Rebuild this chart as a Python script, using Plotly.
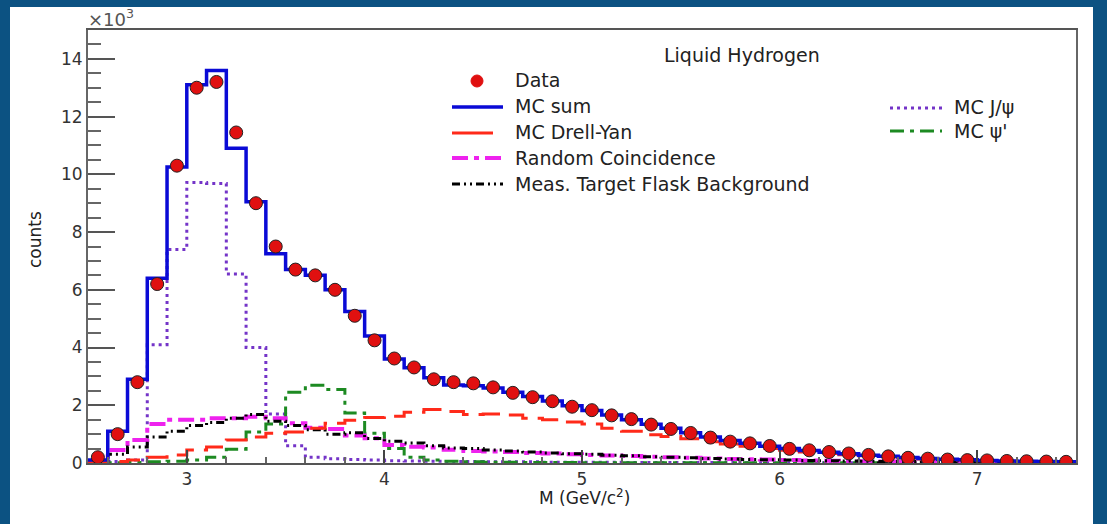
import plotly.graph_objects as go

# bin edges of the mass histogram (GeV/c^2), 0.1 wide
edges = [round(2.5 + 0.1 * i, 1) for i in range(51)]
centers = [round(e + 0.05, 2) for e in edges[:-1]]

# counts in units of 10^3
data = [0.2, 1.0, 2.8, 6.2, 10.3, 13.0, 13.2, 11.45, 9.0, 7.5,
        6.7, 6.5, 6.0, 5.1, 4.25, 3.62, 3.31, 2.9, 2.8, 2.76,
        2.62, 2.43, 2.28, 2.14, 1.95, 1.83, 1.65, 1.52, 1.33, 1.18,
        1.04, 0.88, 0.74, 0.68, 0.59, 0.49, 0.44, 0.38, 0.33, 0.28,
        0.23, 0.18, 0.15, 0.12, 0.1, 0.09, 0.07, 0.06, 0.05, 0.04]
mc_sum = [0.1, 1.1, 2.9, 6.4, 10.25, 13.1, 13.6, 10.9, 9.05, 7.25,
          6.7, 6.5, 6.0, 5.25, 4.4, 3.6, 3.3, 2.95, 2.7, 2.68,
          2.6, 2.45, 2.3, 2.15, 1.98, 1.82, 1.66, 1.5, 1.34, 1.2,
          1.05, 0.9, 0.78, 0.68, 0.58, 0.5, 0.43, 0.37, 0.32, 0.27,
          0.23, 0.19, 0.16, 0.13, 0.11, 0.09, 0.07, 0.06, 0.05, 0.04]
mc_dy = [0.03, 0.05, 0.1, 0.2, 0.28, 0.45, 0.55, 0.8, 0.9, 1.03,
         1.07, 1.2, 1.38, 1.48, 1.58, 1.62, 1.76, 1.85, 1.78, 1.68,
         1.7, 1.66, 1.55, 1.5, 1.42, 1.35, 1.2, 1.1, 0.98, 0.92,
         0.84, 0.74, 0.66, 0.58, 0.5, 0.44, 0.38, 0.33, 0.29, 0.25,
         0.21, 0.17, 0.14, 0.12, 0.1, 0.08, 0.06, 0.05, 0.04, 0.03]
random_coinc = [0.05, 0.45, 0.8, 1.35, 1.5, 1.5, 1.55, 1.55, 1.6, 1.55,
                1.38, 1.22, 1.18, 0.95, 0.86, 0.62, 0.56, 0.54, 0.46, 0.42,
                0.4, 0.38, 0.35, 0.33, 0.3, 0.28, 0.26, 0.24, 0.22, 0.2,
                0.18, 0.16, 0.14, 0.13, 0.12, 0.1, 0.09, 0.08, 0.07, 0.06,
                0.05, 0.05, 0.04, 0.04, 0.03, 0.03, 0.02, 0.02, 0.02, 0.02]
flask_bg = [0.02, 0.3, 0.55, 0.9, 1.1, 1.3, 1.4, 1.55, 1.68, 1.45,
            1.3, 1.15, 1.0, 1.05, 0.85, 0.75, 0.69, 0.6, 0.52, 0.5,
            0.45, 0.42, 0.38, 0.35, 0.32, 0.3, 0.27, 0.25, 0.22, 0.2,
            0.18, 0.16, 0.14, 0.12, 0.11, 0.1, 0.09, 0.08, 0.07, 0.06,
            0.05, 0.05, 0.04, 0.04, 0.03, 0.03, 0.02, 0.02, 0.02, 0.02]
mc_jpsi = [0.0, 0.05, 0.1, 4.1, 7.4, 9.72, 9.68, 6.55, 4.0, 1.7,
           0.6, 0.2, 0.15, 0.12, 0.1, 0.08, 0.07, 0.06, 0.05, 0.05,
           0.04, 0.04, 0.04, 0.03, 0.03, 0.03, 0.03, 0.02, 0.02, 0.02,
           0.02, 0.02, 0.02, 0.01, 0.01, 0.01, 0.01, 0.01, 0.01, 0.01,
           0.01, 0.01, 0.01, 0.01, 0.01, 0.01, 0.01, 0.01, 0.01, 0.01]
mc_psip = [0.0, 0.01, 0.02, 0.04, 0.06, 0.1, 0.2, 0.48, 1.07, 1.35,
           2.45, 2.69, 2.55, 1.73, 1.03, 0.5, 0.2, 0.1, 0.06, 0.04,
           0.03, 0.03, 0.02, 0.02, 0.02, 0.01, 0.01, 0.01, 0.01, 0.01,
           0.01, 0.01, 0.01, 0.01, 0.01, 0.01, 0.01, 0.01, 0.01, 0.01,
           0.01, 0.01, 0.01, 0.01, 0.01, 0.01, 0.01, 0.01, 0.01, 0.01]

W, H = 1107, 524
L, R, T, B = 88, 1076, 30, 463
FONT = "DejaVu Sans, Liberation Sans, sans-serif"
BLUE_BG = "#0c5282"


def px(x):
    return (x - L) / (R - L)


def py(y):
    return (B - y) / (B - T)


def step(vals):
    return edges, vals + [vals[-1]]


fig = go.Figure()

# components drawn first, MC sum then data on top
hists = [
    (mc_jpsi, "#7434c8", 3, "3px,4px"),
    (mc_psip, "#1d8a22", 3, "14px,6px,4px,6px"),
    (random_coinc, "#ee22ee", 4, "16px,6px,5px,6px"),
    (flask_bg, "#000000", 3, "8px,4px,2px,4px,2px,4px"),
    (mc_dy, "#ff2a1a", 3, "22px,10px"),
    (mc_sum, "#0a0ad6", 3.5, "solid"),
]
for vals, col, w, dash in hists:
    x, y = step(vals)
    fig.add_trace(go.Scatter(x=x, y=y, mode="lines", line_shape="hv",
                             line=dict(color=col, width=w, dash=dash),
                             hoverinfo="skip", showlegend=False))

fig.add_trace(go.Scatter(x=centers, y=data, mode="markers",
                         marker=dict(color="#e01010", size=13,
                                     line=dict(color="#222", width=1)),
                         showlegend=False))

shapes = [
    # white panel on the blue frame
    dict(type="rect", xref="paper", yref="paper", layer="below",
         x0=px(10), x1=px(1093), y0=py(7), y1=py(540),
         fillcolor="white", line=dict(width=0)),
    # legend marker for data
    dict(type="circle", xref="paper", yref="paper",
         x0=px(471), x1=px(483), y0=py(75), y1=py(87),
         fillcolor="#e01010", line=dict(color="#e01010", width=1)),
]
legend_lines = [
    (107, 452, 503, "#0a0ad6", 3.5, "solid"),
    (133, 452, 493, "#ff2a1a", 3, "solid"),
    (158, 452, 503, "#ee22ee", 4, "16px,6px,5px,6px"),
    (184, 452, 503, "#000000", 3, "8px,4px,2px,4px,2px,4px"),
    (108, 890, 942, "#7434c8", 3, "3px,4px"),
    (131, 890, 942, "#1d8a22", 3, "14px,6px,4px,6px"),
]
for yy, x0, x1, col, w, dash in legend_lines:
    shapes.append(dict(type="line", xref="paper", yref="paper",
                       x0=px(x0), x1=px(x1), y0=py(yy), y1=py(yy),
                       line=dict(color=col, width=w, dash=dash)))

labels = [
    (662, 55, "Liquid Hydrogen"),
    (513, 80, "Data"),
    (513, 106, "MC sum"),
    (513, 132, "MC Drell-Yan"),
    (513, 158, "Random Coincidence"),
    (513, 184, "Meas. Target Flask Background"),
    (952, 107, "MC J/ψ"),
    (952, 131, "MC ψ'"),
]
annotations = [dict(x=px(x), y=py(y), xref="paper", yref="paper", text=t,
                    showarrow=False, xanchor="left", yanchor="middle",
                    font=dict(family=FONT, size=19, color="#222"))
               for x, y, t in labels]
annotations += [
    dict(x=px(86), y=py(18), xref="paper", yref="paper", text="×10<sup>3</sup>",
         showarrow=False, xanchor="left", yanchor="middle",
         font=dict(family=FONT, size=18, color="#555")),
    dict(x=px(35), y=py(240), xref="paper", yref="paper", text="counts",
         showarrow=False, textangle=-90, xanchor="center", yanchor="middle",
         font=dict(family=FONT, size=17, color="#222")),
    dict(x=px(584), y=py(497), xref="paper", yref="paper",
         text="M (GeV/c<sup>2</sup>)", showarrow=False,
         xanchor="center", yanchor="middle",
         font=dict(family=FONT, size=17, color="#222")),
]

fig.update_layout(
    width=W, height=H,
    margin=dict(l=L, r=W - R, t=T, b=H - B),
    paper_bgcolor=BLUE_BG, plot_bgcolor="white",
    shapes=shapes, annotations=annotations,
    font=dict(family=FONT, size=17, color="#333"),
)
fig.update_xaxes(range=[2.5, 7.5], tickvals=[3, 4, 5, 6, 7], ticks="inside",
                 ticklen=13, tickwidth=1.5, tickcolor="#444",
                 minor=dict(ticks="inside", dtick=0.2, ticklen=6, tickcolor="#666"),
                 showline=True, linecolor="#555", linewidth=2, mirror=True,
                 showgrid=False, zeroline=False,
                 tickfont=dict(family=FONT, size=17, color="#333"))
fig.update_yaxes(range=[0, 15], tickvals=[0, 2, 4, 6, 8, 10, 12, 14], ticks="inside",
                 ticklen=27, tickwidth=2, tickcolor="#555",
                 minor=dict(ticks="inside", dtick=0.5, ticklen=13, tickwidth=2, tickcolor="#666"),
                 showline=True, linecolor="#666", linewidth=2, mirror=True,
                 showgrid=False, zeroline=False,
                 tickfont=dict(family=FONT, size=17, color="#333"))

# drop the default page margin so the figure sits at the window origin
fig.write_html("out.html", config={"displayModeBar": False},
               post_script="document.body.style.margin='0';")
